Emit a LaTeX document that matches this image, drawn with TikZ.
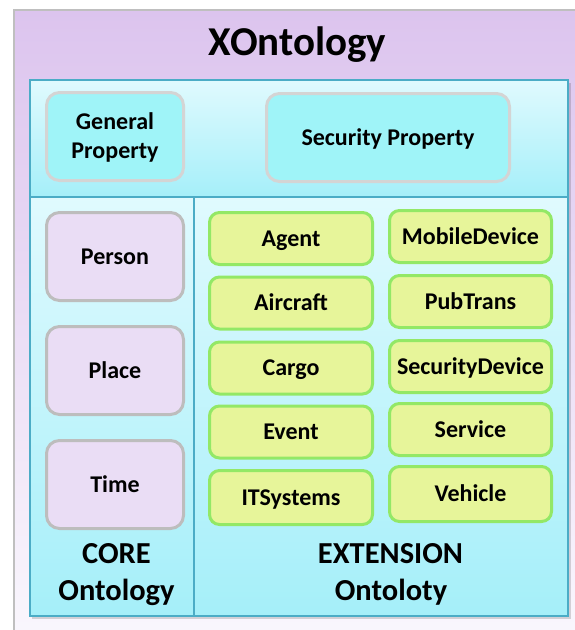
\documentclass[tikz,border=0pt]{standalone}
\usepackage{fontspec}
\setmainfont{Carlito}
\usetikzlibrary{shadows}

\definecolor{frameedge}{HTML}{BFBFBF}
\definecolor{frametop}{HTML}{DCC4EE}
\definecolor{framebot}{HTML}{FAF7FD}
\definecolor{panelline}{HTML}{4BACC6}
\definecolor{paneltop}{HTML}{E0FAFE}
\definecolor{panelbot}{HTML}{A5EFF9}
\definecolor{propfill}{HTML}{9FF4F8}
\definecolor{propedge}{HTML}{D4D4D4}
\definecolor{corefill}{HTML}{EADDF5}
\definecolor{coreedge}{HTML}{BDBDBD}
\definecolor{extfill}{HTML}{E7F59A}
\definecolor{extedge}{HTML}{93E866}

\begin{document}
\begin{tikzpicture}[x=1pt,y=1pt,
  box/.style={rectangle, rounded corners=13pt, line width=3pt, inner sep=0pt,
    font=\fontsize{24}{29}\selectfont\bfseries, text height=15.4pt, text depth=0pt},
  prop/.style={box, fill=propfill, draw=propedge, minimum width=137pt, minimum height=88pt},
  core/.style={box, fill=corefill, draw=coreedge, minimum width=137pt, minimum height=88pt},
  ext/.style={box, fill=extfill, draw=extedge, rounded corners=10pt, minimum height=52pt},
  extl/.style={ext, minimum width=163pt},
  extr/.style={ext, minimum width=162pt},
  lbl/.style={font=\fontsize{24}{29}\selectfont\bfseries, anchor=base, inner sep=0pt},
  big/.style={font=\fontsize{30.5}{37}\selectfont\bfseries, anchor=base, inner sep=0pt},
  title/.style={font=\fontsize{41}{48}\selectfont\bfseries, anchor=base, inner sep=0pt}]

\useasboundingbox (0,0) rectangle (574,-630);

% outer frame
\shade[top color=frametop, bottom color=framebot] (14,-10) rectangle (600,-640);
\draw[frameedge, line width=2pt] (14,-660) -- (14,-10) -- (600,-10);
\node[title] (xonto) at (297.5,-55) {XOntology};

% inner panel with shadow
\fill[black, opacity=0.15] (32,-83) rectangle (571,-619);
\shade[top color=paneltop, bottom color=panelbot] (30,-80) rectangle (568,-197);
\shade[top color=paneltop, bottom color=panelbot] (30,-197) rectangle (194,-616);
\shade[top color=paneltop, bottom color=panelbot] (194,-197) rectangle (568,-616);
\draw[panelline, line width=1.5pt] (30,-80) rectangle (568,-616);
\draw[panelline, line width=1.2pt] (30,-197) -- (568,-197);
\draw[panelline, line width=1.2pt] (194,-197) -- (194,-616);

% property row
\node[prop] (gp) at (115,-136.5) {};
\node[lbl] (gp1) at (115,-129.5) {General};
\node[lbl] (gp2) at (115,-158.5) {Property};
\node[prop, minimum width=243pt] (sp) at (388,-137.5) {Security Property};

% core ontology
\node[core] (person) at (115,-256.5) {Person};
\node[core] (place) at (115,-370.5) {Place};
\node[core] (time) at (115,-484.5) {Time};
\node[big] (core1) at (116.5,-563) {CORE};
\node[big] (core2) at (116.5,-600) {Ontology};

% extension ontology
\node[extl] (agent) at (291,-238.5) {Agent};
\node[extl] (aircraft) at (291,-303) {Aircraft};
\node[extl] (cargo) at (291,-368) {Cargo};
\node[extl] (event) at (291,-432) {Event};
\node[extl, minimum height=54pt] (itsys) at (291,-497.5) {ITSystems};
\node[extr] (mobile) at (470.5,-236.5) {MobileDevice};
\node[extr] (pubtrans) at (470.5,-301.5) {PubTrans};
\node[extr] (secdev) at (470.5,-366.5) {SecurityDevice};
\node[extr] (service) at (470.5,-429.5) {Service};
\node[extr, minimum height=55pt] (vehicle) at (470.5,-494) {Vehicle};
\node[big] (ext1) at (390.5,-563) {EXTENSION};
\node[big] (ext2) at (391,-600) {Ontoloty};

\end{tikzpicture}
\end{document}
